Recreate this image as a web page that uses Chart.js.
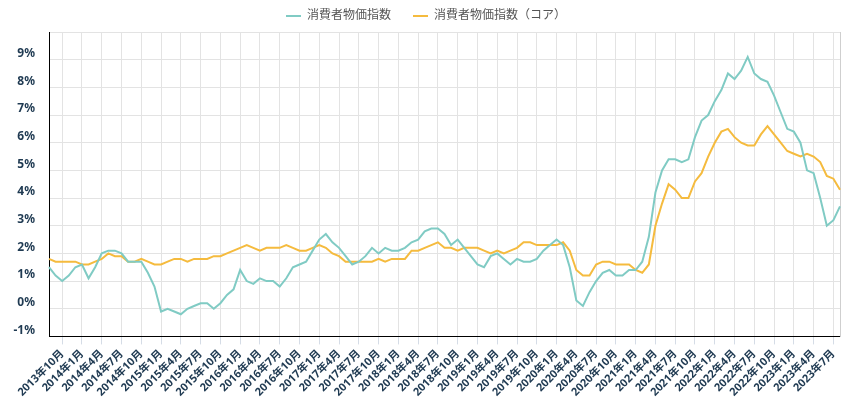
<!DOCTYPE html>
<html lang="ja">
<head>
  <meta charset="UTF-8" />
  <title>消費者物価指数</title>
  <script src="https://cdn.jsdelivr.net/npm/chart.js"></script>
  <style>
    body { margin: 0; background: #fff; }
    #wrap { width: 850px; height: 400px; }
  </style>
</head>
<body>
  <div id="wrap">
    <canvas id="cpiChart" width="850" height="400"></canvas>
  </div>

  <script>
    // 月ラベル（2013年8月〜2023年8月）
    const labels = [
      "2013年8月", "2013年9月", "2013年10月", "2013年11月", "2013年12月",
      "2014年1月", "2014年2月", "2014年3月", "2014年4月", "2014年5月", "2014年6月", "2014年7月", "2014年8月", "2014年9月", "2014年10月", "2014年11月", "2014年12月",
      "2015年1月", "2015年2月", "2015年3月", "2015年4月", "2015年5月", "2015年6月", "2015年7月", "2015年8月", "2015年9月", "2015年10月", "2015年11月", "2015年12月",
      "2016年1月", "2016年2月", "2016年3月", "2016年4月", "2016年5月", "2016年6月", "2016年7月", "2016年8月", "2016年9月", "2016年10月", "2016年11月", "2016年12月",
      "2017年1月", "2017年2月", "2017年3月", "2017年4月", "2017年5月", "2017年6月", "2017年7月", "2017年8月", "2017年9月", "2017年10月", "2017年11月", "2017年12月",
      "2018年1月", "2018年2月", "2018年3月", "2018年4月", "2018年5月", "2018年6月", "2018年7月", "2018年8月", "2018年9月", "2018年10月", "2018年11月", "2018年12月",
      "2019年1月", "2019年2月", "2019年3月", "2019年4月", "2019年5月", "2019年6月", "2019年7月", "2019年8月", "2019年9月", "2019年10月", "2019年11月", "2019年12月",
      "2020年1月", "2020年2月", "2020年3月", "2020年4月", "2020年5月", "2020年6月", "2020年7月", "2020年8月", "2020年9月", "2020年10月", "2020年11月", "2020年12月",
      "2021年1月", "2021年2月", "2021年3月", "2021年4月", "2021年5月", "2021年6月", "2021年7月", "2021年8月", "2021年9月", "2021年10月", "2021年11月", "2021年12月",
      "2022年1月", "2022年2月", "2022年3月", "2022年4月", "2022年5月", "2022年6月", "2022年7月", "2022年8月", "2022年9月", "2022年10月", "2022年11月", "2022年12月",
      "2023年1月", "2023年2月", "2023年3月", "2023年4月", "2023年5月", "2023年6月", "2023年7月", "2023年8月"
    ];

    // 表示する目盛りの月（四半期ごと）
    const tickMonths = ["1月", "4月", "7月", "10月"];

    // 消費者物価指数（前年同月比, %）
    const cpi = [
      1.5, 1.2, 1.0, 1.2, 1.5,
      1.6, 1.1, 1.5, 2.0, 2.1, 2.1, 2.0, 1.7, 1.7, 1.7, 1.3, 0.8,
      -0.1, 0.0, -0.1, -0.2, 0.0, 0.1, 0.2, 0.2, 0.0, 0.2, 0.5, 0.7,
      1.4, 1.0, 0.9, 1.1, 1.0, 1.0, 0.8, 1.1, 1.5, 1.6, 1.7, 2.1,
      2.5, 2.7, 2.4, 2.2, 1.9, 1.6, 1.7, 1.9, 2.2, 2.0, 2.2, 2.1,
      2.1, 2.2, 2.4, 2.5, 2.8, 2.9, 2.9, 2.7, 2.3, 2.5, 2.2, 1.9,
      1.6, 1.5, 1.9, 2.0, 1.8, 1.6, 1.8, 1.7, 1.7, 1.8, 2.1, 2.3,
      2.5, 2.3, 1.5, 0.3, 0.1, 0.6, 1.0, 1.3, 1.4, 1.2, 1.2, 1.4,
      1.4, 1.7, 2.6, 4.2, 5.0, 5.4, 5.4, 5.3, 5.4, 6.2, 6.8, 7.0,
      7.5, 7.9, 8.5, 8.3, 8.6, 9.1, 8.5, 8.3, 8.2, 7.7, 7.1, 6.5,
      6.4, 6.0, 5.0, 4.9, 4.0, 3.0, 3.2, 3.7
    ];

    // 消費者物価指数（コア）
    const cpiCore = [
      1.8, 1.7, 1.7, 1.7, 1.7,
      1.6, 1.6, 1.7, 1.8, 2.0, 1.9, 1.9, 1.7, 1.7, 1.8, 1.7, 1.6,
      1.6, 1.7, 1.8, 1.8, 1.7, 1.8, 1.8, 1.8, 1.9, 1.9, 2.0, 2.1,
      2.2, 2.3, 2.2, 2.1, 2.2, 2.2, 2.2, 2.3, 2.2, 2.1, 2.1, 2.2,
      2.3, 2.2, 2.0, 1.9, 1.7, 1.7, 1.7, 1.7, 1.7, 1.8, 1.7, 1.8,
      1.8, 1.8, 2.1, 2.1, 2.2, 2.3, 2.4, 2.2, 2.2, 2.1, 2.2, 2.2,
      2.2, 2.1, 2.0, 2.1, 2.0, 2.1, 2.2, 2.4, 2.4, 2.3, 2.3, 2.3,
      2.3, 2.4, 2.1, 1.4, 1.2, 1.2, 1.6, 1.7, 1.7, 1.6, 1.6, 1.6,
      1.4, 1.3, 1.6, 3.0, 3.8, 4.5, 4.3, 4.0, 4.0, 4.6, 4.9, 5.5,
      6.0, 6.4, 6.5, 6.2, 6.0, 5.9, 5.9, 6.3, 6.6, 6.3, 6.0, 5.7,
      5.6, 5.5, 5.6, 5.5, 5.3, 4.8, 4.7, 4.3
    ];

    const tickColor = "#1f3a52";
    Chart.defaults.font.family = "'Noto Sans', 'Noto Sans CJK JP', sans-serif";

    const ctx = document.getElementById("cpiChart").getContext("2d");

    const chart = new Chart(ctx, {
      type: "line",
      data: {
        labels,
        datasets: [
          {
            label: "消費者物価指数",
            data: cpi,
            borderColor: "#80cbc4",
            backgroundColor: "#80cbc4",
            borderWidth: 2,
            pointRadius: 0,
            tension: 0
          },
          {
            label: "消費者物価指数（コア）",
            data: cpiCore,
            borderColor: "#f5bb3e",
            backgroundColor: "#f5bb3e",
            borderWidth: 2,
            pointRadius: 0,
            tension: 0
          }
        ]
      },
      options: {
        responsive: false,
        animation: false,
        // 凡例の間隔を広げた分、上に寄せる
        layout: { padding: { top: -12, left: 5, right: 3, bottom: -2 } },
        plugins: {
          legend: {
            position: "top",
            labels: {
              usePointStyle: true,
              pointStyle: "line",
              pointStyleWidth: 15,
              color: "#555",
              font: { size: 12 },
              padding: 22
            }
          },
          tooltip: { enabled: false }
        },
        scales: {
          x: {
            grid: {
              color: "#e3e3e3",
              tickColor: "#d5dce6",
              tickLength: 8
            },
            border: { color: "#000", width: 1 },
            ticks: {
              autoSkip: false,
              maxRotation: 45,
              minRotation: 45,
              color: tickColor,
              font: { size: 11, weight: "bold" },
              // 四半期の月だけ表示（それ以外は線も出さない）
              callback: function (value) {
                const lbl = labels[value];
                return tickMonths.some(m => lbl.endsWith("年" + m)) ? lbl : null;
              }
            }
          },
          y: {
            min: -1,
            max: 10,
            afterFit: scale => { scale.width = 44; },
            grid: {
              color: "#e3e3e3",
              drawTicks: false
            },
            border: { color: "#000", width: 1 },
            ticks: {
              stepSize: 1,
              padding: 14,
              labelOffset: -6,
              color: tickColor,
              font: { size: 12, weight: "bold" },
              callback: value => (value >= 10 ? "" : value + "%")
            }
          },
          yRight: {
            position: "right",
            min: -1,
            max: 10,
            afterFit: scale => { scale.width = 7; },
            grid: { display: false, drawTicks: false },
            border: { display: true, color: "#cfcfcf" },
            ticks: { display: false }
          }
        }
      }
    });
  </script>
</body>
</html>
